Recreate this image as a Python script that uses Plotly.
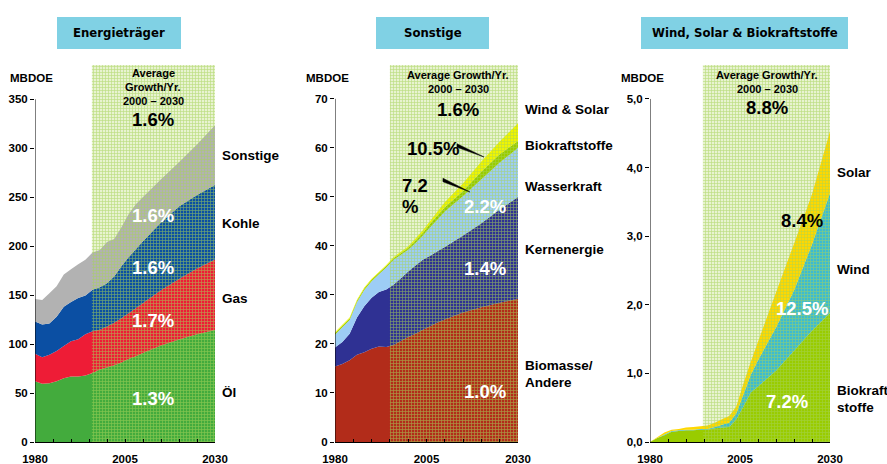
import plotly.graph_objects as go

W, H = 887, 464
FONT = "Liberation Sans, Arial, sans-serif"
NARROW = "Liberation Sans Narrow, DejaVu Sans Condensed, Arial Narrow, sans-serif"

# ---------------- data ----------------
years = [1980, 1982, 1984, 1986, 1988, 1990, 1992, 1994, 1996, 1998, 2000,
         2002, 2004, 2006, 2008, 2010, 2015, 2020, 2025, 2030]

# Panel 1: Energieträger (MBDOE)
e_oel = [62, 59.5, 60, 62, 65, 67, 67, 68, 70.5, 74, 76, 78.3, 81.3, 84.7, 87.5, 91, 98.6, 104.7, 110.1, 114.5]
e_gas = [28, 27, 29, 31, 33, 36, 38, 42, 42.5, 40.6, 42, 43.5, 45.1, 46.9, 49.2, 51, 56.3, 61.7, 67.1, 72]
e_kohle = [33, 33.5, 32, 35, 40, 40, 42, 39.6, 42.5, 43.4, 44.1, 47.2, 53.1, 57, 60.1, 63, 69.3, 74, 75, 76]
e_sonstige = [23, 25, 31, 31, 33, 33.5, 34.5, 36.6, 38, 38, 42.1, 38.4, 39.9, 44.1, 46, 45.2, 44, 45.4, 51.7, 61]

# Panel 2: Sonstige (MBDOE)
s_biomasse = [15.4, 15.9, 16.7, 17.8, 18.3, 19, 19.5, 19.4, 19.8, 20.6, 21.4, 22.1, 22.9, 23.6, 24.4, 25, 26.4, 27.5, 28.4, 29.2]
s_kern = [3.9, 4.5, 5.4, 7.6, 9.4, 10.4, 11.1, 11.7, 12.3, 12.8, 13.4, 13.9, 14.3, 14.4, 14.5, 14.8, 15.7, 17.1, 19, 20.8]
s_wasser = [2.6, 3.0, 2.8, 3.1, 3.3, 3.4, 3.6, 4.5, 5.1, 4.8, 4.4, 4.6, 4.9, 5.8, 6.5, 7.2, 8.1, 9.0, 9.6, 10.0]
s_biokraft = [0.3, 0.3, 0.3, 0.3, 0.3, 0.3, 0.3, 0.3, 0.3, 0.3, 0.4, 0.5, 0.6, 0.7, 0.8, 0.9, 1.0, 1.6, 1.7, 1.4]
s_windsolar = [0.2, 0.2, 0.2, 0.2, 0.2, 0.2, 0.2, 0.2, 0.2, 0.3, 0.3, 0.4, 0.5, 0.6, 0.8, 1.0, 1.6, 2.0, 2.6, 3.6]

# Panel 3: Wind, Solar & Biokraftstoffe (MBDOE)
w_bio = [0, 0.06, 0.1, 0.15, 0.16, 0.17, 0.17, 0.18, 0.18, 0.2, 0.21, 0.22, 0.33, 0.52, 0.72, 0.81, 1.04, 1.33, 1.62, 1.88]
w_wind = [0, 0, 0.01, 0.01, 0.01, 0.01, 0.01, 0.01, 0.01, 0.02, 0.04, 0.06, 0.09, 0.18, 0.26, 0.38, 0.63, 0.88, 1.26, 1.75]
w_solar = [0, 0.01, 0.03, 0.02, 0.02, 0.03, 0.04, 0.04, 0.05, 0.06, 0.08, 0.10, 0.10, 0.16, 0.19, 0.27, 0.51, 0.68, 0.73, 0.90]

yticks1 = [0, 50, 100, 150, 200, 250, 300, 350]
yticks2 = [0, 10, 20, 30, 40, 50, 60, 70]
yticks3 = [0, 1, 2, 3, 4, 5]
yticks3_text = ["0,0", "1,0", "2,0", "3,0", "4,0", "5,0"]
xticks = [1980, 1985, 1990, 1995, 2000, 2005, 2010, 2015, 2020, 2025, 2030]
xticks_text = ["1980", "", "", "", "", "2005", "", "", "", "", "2030"]

# ---------------- layout helpers ----------------
def px(x):
    return x / W

def py(y):
    return 1 - y / H

Y_BOT, Y_TOP = 442, 65
panels = [
    dict(x0=35, x1=215, yr=[0, 385], ymax=350, shade0=1995.8, ticks=yticks1, ttext=[str(v) for v in yticks1]),
    dict(x0=335, x1=518, yr=[0, 76.9], ymax=70, shade0=1995.0, ticks=yticks2, ttext=[str(v) for v in yticks2]),
    dict(x0=650, x1=830, yr=[0, 5.495], ymax=5, shade0=1994.7, ticks=yticks3, ttext=yticks3_text),
]

fig = go.Figure()

series = [
    [(e_oel, "#43ab3d"), (e_gas, "#ee1c36"), (e_kohle, "#0b4fa3"), (e_sonstige, "#b2b2b2")],
    [(s_biomasse, "#b22c1a"), (s_kern, "#2f3193"), (s_wasser, "#9dcdf5"), (s_biokraft, "#99cc00"), (s_windsolar, "#f0f500")],
    [(w_bio, "#99cc00"), (w_wind, "#3cbbd1"), (w_solar, "#ffd800")],
]

for i, (p, ser) in enumerate(zip(panels, series)):
    n = "" if i == 0 else str(i + 1)
    xa, ya = "x" + n, "y" + n
    top = p["yr"][1]
    # light tint of the forecast region (behind the areas)
    fig.add_shape(type="rect", xref=xa, yref=ya, x0=p["shade0"], x1=2030, y0=0, y1=top,
                  fillcolor="#e8f3d0", line=dict(width=0), layer="below")
    for vals, col in ser:
        fig.add_trace(go.Scatter(
            x=years, y=vals, xaxis=xa, yaxis=ya, stackgroup="s" + str(i),
            mode="none", fillcolor=col, line=dict(width=0),
            hoverinfo="skip", showlegend=False))
    # hatched "forecast" region drawn over the areas
    fig.add_trace(go.Scatter(
        x=[p["shade0"], 2030, 2030, p["shade0"], p["shade0"]],
        y=[0, 0, top, top, 0], xaxis=xa, yaxis=ya,
        fill="toself", mode="none", fillcolor="rgba(0,0,0,0)",
        fillpattern=dict(shape="+", fgcolor="#a6d258", fgopacity=0.65,
                         bgcolor="rgba(0,0,0,0)", size=3, solidity=0.4),
        hoverinfo="skip", showlegend=False))

    fig.update_layout({
        "xaxis" + n: dict(domain=[px(p["x0"]), px(p["x1"])], range=[1980, 2030],
                          anchor=ya, showgrid=False, zeroline=False, automargin=False,
                          showline=True, linecolor="black", linewidth=1,
                          ticks="inside", ticklen=3, tickcolor="black",
                          tickvals=xticks, ticktext=xticks_text,
                          ticklabelstandoff=6,
                          tickfont=dict(family=FONT, size=11.5, color="black", weight="bold")),
        "yaxis" + n: dict(domain=[py(Y_BOT), py(Y_TOP)], range=p["yr"], anchor=xa,
                          showgrid=False, zeroline=False, showline=False, automargin=False,
                          ticks="outside", ticklen=4, tickcolor="black",
                          tickvals=p["ticks"], ticktext=p["ttext"],
                          tickfont=dict(family=FONT, size=11.5, color="black", weight="bold")),
    })
    fig.add_shape(type="line", xref=xa, yref=ya, x0=1980, x1=1980, y0=0, y1=p["ymax"],
                  line=dict(color="black", width=1))

# ---------------- title boxes ----------------
boxes = [(57, 181, "Energieträger"), (376, 489, "Sonstige"), (641, 848, "Wind, Solar & Biokraftstoffe")]
for x0, x1, t in boxes:
    fig.add_shape(type="rect", xref="paper", yref="paper", x0=px(x0), x1=px(x1),
                  y0=py(49), y1=py(17), fillcolor="#80d1e4", line=dict(width=0), layer="below")
    fig.add_annotation(x=px((x0 + x1) / 2), y=py(33), xref="paper", yref="paper",
                       text=t, showarrow=False, xanchor="center", yanchor="middle",
                       font=dict(family=NARROW, size=13, color="black", weight="bold"))

# ---------------- text ----------------
def ann(text, x, y, size, color="black", xanchor="center"):
    fig.add_annotation(x=px(x), y=py(y), xref="paper", yref="paper", text=text,
                       showarrow=False, xanchor=xanchor, yanchor="middle",
                       font=dict(family=FONT, size=size, color=color, weight="bold"))

# MBDOE labels
ann("MBDOE", 31.5, 77.5, 11.5)
ann("MBDOE", 327.5, 78, 11.5)
ann("MBDOE", 642, 78, 11.5)

# Growth headers
ann("Average", 153, 73, 11)
ann("Growth/Yr.", 153, 87, 11)
ann("2000 – 2030", 153, 101, 11)
ann("1.6%", 153, 120, 18.5)

ann("Average Growth/Yr.", 458, 75, 11)
ann("2000 – 2030", 458, 89, 11)
ann("1.6%", 458, 110, 18.5)

ann("Average Growth/Yr.", 767, 75, 11)
ann("2000 – 2030", 767, 89, 11)
ann("8.8%", 767, 107, 18.5)

# Panel 1 labels
for t, y in [("Sonstige", 155), ("Kohle", 223), ("Gas", 298), ("Öl", 392)]:
    ann(t, 220, y, 13.5, xanchor="left")
for t, y in [("1.6%", 215), ("1.6%", 267), ("1.7%", 320), ("1.3%", 398)]:
    ann(t, 153, y, 18.5, color="white")

# Panel 2 labels
for t, y in [("Wind & Solar", 110), ("Biokraftstoffe", 145), ("Wasserkraft", 186),
             ("Kernenergie", 249), ("Biomasse/", 365), ("Andere", 382)]:
    ann(t, 523, y, 13.5, xanchor="left")
for t, y in [("2.2%", 207), ("1.4%", 268), ("1.0%", 391)]:
    ann(t, 485, y, 18.5, color="white")
ann("10.5%", 405, 148, 18.5, xanchor="left")
ann("7.2", 400, 185, 18.5, xanchor="left")
ann("%", 400, 206, 18.5, xanchor="left")

# pointer wedges
def wedge(xa, ya, xb, yb, w=1.8):
    path = "M {:.4f} {:.4f} L {:.4f} {:.4f} L {:.4f} {:.4f} Z".format(
        px(xa), py(ya - w), px(xa), py(ya + w), px(xb), py(yb))
    fig.add_shape(type="path", xref="paper", yref="paper", path=path,
                  fillcolor="black", line=dict(color="black", width=0.5))

wedge(457, 145.5, 484, 157)
wedge(443, 180, 470, 192)

# Panel 3 labels
for t, y in [("Solar", 173), ("Wind", 269), ("Biokraft", 390), ("stoffe", 407)]:
    ann(t, 835, y, 13.5, xanchor="left")
ann("8.4%", 802, 221, 18.5)
ann("12.5%", 802, 308, 18.5, color="white")
ann("7.2%", 787, 401, 18.5, color="white")

fig.update_layout(width=W, height=H, margin=dict(l=0, r=0, t=0, b=0, autoexpand=False),
                  paper_bgcolor="white", plot_bgcolor="rgba(0,0,0,0)",
                  showlegend=False)

fig.write_html("out.html")
